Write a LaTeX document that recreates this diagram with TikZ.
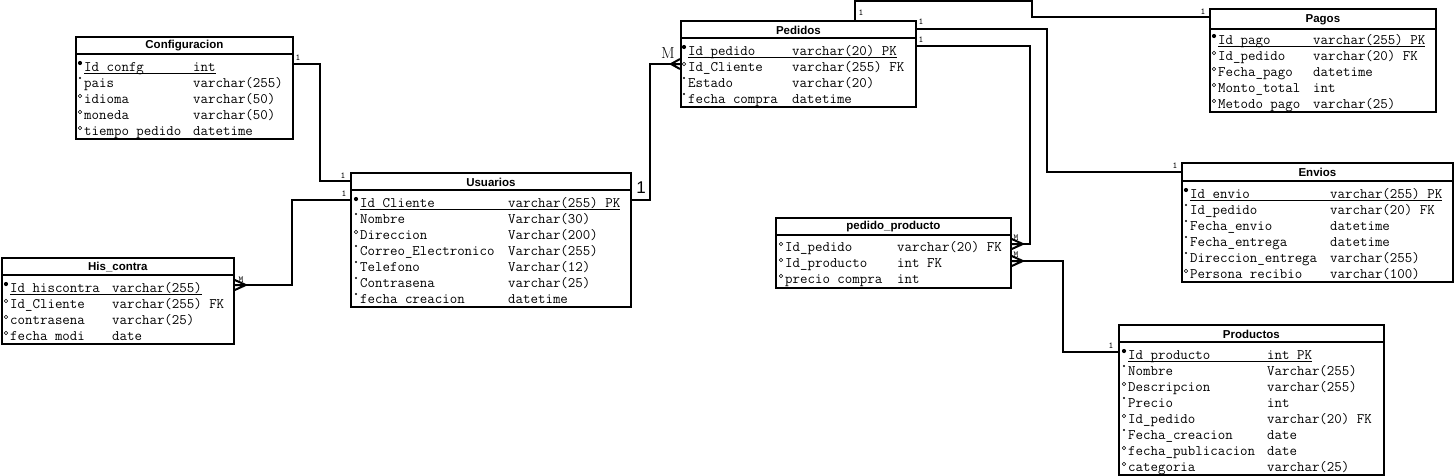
\documentclass[tikz,border=0pt]{standalone}
\usepackage{fontspec}
\newfontfamily\ttlfont{Liberation Sans}
\newfontfamily\onefont{Liberation Sans}
\usetikzlibrary{calc}
\tikzset{
  tab/.style={draw, line width=1.8pt, inner sep=0pt, anchor=north west, fill=white},
  ttl/.style={font=\ttlfont\bfseries\fontsize{11.5}{12}\selectfont, inner sep=0pt},
  fld/.style={font=\ttfamily\fontsize{14.5}{16}\selectfont, inner sep=0pt, anchor=base west},
  sepline/.style={line width=1.8pt},
  conn/.style={line width=1.8pt},
  foot/.style={line width=2pt},
  ul/.style={line width=0.8pt},
  card/.style={font=\ttfamily\fontsize{9}{9}\selectfont, inner sep=0pt},
  bigone/.style={font=\onefont\fontsize{17}{17}\selectfont, inner sep=0pt},
  bigm/.style={font=\fontsize{16}{16}\selectfont, inner sep=0pt},
}
% table: #1 name, #2 left, #3 top, #4 right, #5 bottom, #6 separator y, #7 title
\newcommand{\ertable}[7]{%
  \node[tab, minimum width=#4-#2, minimum height=#5-#3] (#1) at (#2,#3) {};
  \node[ttl] (#1-h) at ($(#1.north)!0.55!(#1.north |- 0,#6)$) {#7};
  \draw[sepline] (#1.west |- 0,#6) -- (#1.east |- 0,#6);
}
\newcommand{\mkpk}[2]{\fill (#1-4,#2-4) circle (2.1pt);}
\newcommand{\mkmd}[2]{\fill (#1-4,#2-5) circle (1.1pt);}
\newcommand{\mkop}[2]{\draw[line width=0.6pt] (#1-4,#2-3) circle (1.7pt);}
% row: #1 table, #2 index, #3 name x, #4 type x, #5 center y, #6 marker, #7 name, #8 type
\newcommand{\erow}[8]{%
  \node[fld] (#1-n#2) at (#3,#5+4) {#7};
  \node[fld] (#1-t#2) at (#4,#5+4) {#8};
  #6{#3}{#5}%
}
\newcommand{\pkline}[1]{\draw[ul] ([yshift=-2.5pt]#1-n1.base west) -- ([yshift=-2.5pt]#1-t1.base east);}
\newcommand{\crowE}[1]{\draw[foot] (#1) ++(11,0) coordinate (ap) -- ++(-11,-5) (ap) -- ++(-11,0) (ap) -- ++(-11,5);}
\newcommand{\crowW}[1]{\draw[foot] (#1) ++(-9,0) coordinate (ap) -- ++(9,-5) (ap) -- ++(9,0) (ap) -- ++(9,5);}
\begin{document}
\begin{tikzpicture}[x=1pt, y=-1pt]
\useasboundingbox[fill=white] (0,0) rectangle (1454,475);

% ---------- Configuracion
\ertable{conf}{75}{36}{292}{138}{54}{Configuracion}
\erow{conf}{1}{84}{193}{67}{\mkpk}{Id\_confg}{int}
\erow{conf}{2}{84}{193}{83}{\mkmd}{pais}{varchar(255)}
\erow{conf}{3}{84}{193}{99}{\mkop}{idioma}{varchar(50)}
\erow{conf}{4}{84}{193}{115}{\mkop}{moneda}{varchar(50)}
\erow{conf}{5}{84}{193}{131}{\mkop}{tiempo pedido}{datetime}
\pkline{conf}

% ---------- Usuarios
\ertable{usu}{350}{172}{630}{306}{190}{Usuarios}
\erow{usu}{1}{360}{508}{203}{\mkpk}{Id\_Cliente}{varchar(255) PK}
\erow{usu}{2}{360}{508}{219}{\mkmd}{Nombre}{Varchar(30)}
\erow{usu}{3}{360}{508}{235}{\mkop}{Direccion}{Varchar(200)}
\erow{usu}{4}{360}{508}{251}{\mkmd}{Correo\_Electronico}{Varchar(255)}
\erow{usu}{5}{360}{508}{267}{\mkmd}{Telefono}{Varchar(12)}
\erow{usu}{6}{360}{508}{283}{\mkmd}{Contrasena}{varchar(25)}
\erow{usu}{7}{360}{508}{299}{\mkmd}{fecha creacion}{datetime}
\pkline{usu}

% ---------- His_contra
\ertable{his}{1}{257}{233}{343}{275}{His\_contra}
\erow{his}{1}{10}{112}{288}{\mkpk}{Id\_hiscontra}{varchar(255)}
\erow{his}{2}{10}{112}{304}{\mkop}{Id\_Cliente}{varchar(255) FK}
\erow{his}{3}{10}{112}{320}{\mkop}{contrasena}{varchar(25)}
\erow{his}{4}{10}{112}{336}{\mkop}{fecha modi}{date}
\pkline{his}

% ---------- Pedidos
\ertable{ped}{680}{20}{915}{106}{38}{Pedidos}
\erow{ped}{1}{688}{792}{51}{\mkpk}{Id\_pedido}{varchar(20) PK}
\erow{ped}{2}{688}{792}{67}{\mkop}{Id\_Cliente}{varchar(255) FK}
\erow{ped}{3}{688}{792}{83}{\mkmd}{Estado}{varchar(20)}
\erow{ped}{4}{688}{792}{99}{\mkmd}{fecha compra}{datetime}
\pkline{ped}

% ---------- Pagos
\ertable{pag}{1209}{8}{1435}{111}{29}{Pagos}
\erow{pag}{1}{1218}{1313}{40}{\mkpk}{Id\_pago}{varchar(255) PK}
\erow{pag}{2}{1218}{1313}{56}{\mkop}{Id\_pedido}{varchar(20) FK}
\erow{pag}{3}{1218}{1313}{72}{\mkop}{Fecha\_pago}{datetime}
\erow{pag}{4}{1218}{1313}{88}{\mkop}{Monto\_total}{int}
\erow{pag}{5}{1218}{1313}{104}{\mkop}{Metodo pago}{varchar(25)}
\pkline{pag}

% ---------- Envios
\ertable{env}{1181}{162}{1452}{281}{181}{Envios}
\erow{env}{1}{1190}{1330}{194}{\mkpk}{Id\_envio}{varchar(255) PK}
\erow{env}{2}{1190}{1330}{210}{\mkmd}{Id\_pedido}{varchar(20) FK}
\erow{env}{3}{1190}{1330}{226}{\mkmd}{Fecha\_envio}{datetime}
\erow{env}{4}{1190}{1330}{242}{\mkmd}{Fecha\_entrega}{datetime}
\erow{env}{5}{1190}{1330}{258}{\mkmd}{Direccion\_entrega}{varchar(255)}
\erow{env}{6}{1190}{1330}{274}{\mkop}{Persona recibio}{varchar(100)}
\pkline{env}

% ---------- pedido_producto
\ertable{pp}{775}{217}{1010}{287}{235}{pedido\_producto}
\erow{pp}{1}{785}{897}{247}{\mkop}{Id\_pedido}{varchar(20) FK}
\erow{pp}{2}{785}{897}{263}{\mkop}{Id\_producto}{int FK}
\erow{pp}{3}{785}{897}{279}{\mkop}{precio compra}{int}

% ---------- Productos
\ertable{prod}{1118}{324}{1383}{474}{342}{Productos}
\erow{prod}{1}{1128}{1267}{355}{\mkpk}{Id\_producto}{int PK}
\erow{prod}{2}{1128}{1267}{371}{\mkmd}{Nombre}{Varchar(255)}
\erow{prod}{3}{1128}{1267}{387}{\mkop}{Descripcion}{varchar(255)}
\erow{prod}{4}{1128}{1267}{403}{\mkmd}{Precio}{int}
\erow{prod}{5}{1128}{1267}{419}{\mkop}{Id\_pedido}{varchar(20) FK}
\erow{prod}{6}{1128}{1267}{435}{\mkmd}{Fecha\_creacion}{date}
\erow{prod}{7}{1128}{1267}{451}{\mkop}{fecha\_publicacion}{date}
\erow{prod}{8}{1128}{1267}{467}{\mkop}{categoria}{varchar(25)}
\pkline{prod}

% ---------- connectors
% Configuracion - Usuarios
\draw[conn] (conf.east |- 0,64) -| (320,181) -- (usu.west |- 0,181);
\node[card] (l1a) at (298,58) {1};
\node[card] (l1b) at (343,176) {1};
% His_contra - Usuarios
\coordinate (f2) at (his.east |- 0,285);
\draw[conn] (f2) -- (292,285) |- (usu.west |- 0,200);
\crowE{f2}
\node[card] (l2a) at (241,280) {M};
\node[card] (l2b) at (344,194) {1};
% Usuarios - Pedidos
\coordinate (f3) at (ped.west |- 0,64);
\draw[conn] (usu.east |- 0,200) -| (650,64) -- (f3);
\crowW{f3}
\node[bigone] (l3a) at (641,188) {1};
\node[bigm] (l3b) at (668,53) {M};
% Pedidos - Pagos
\draw[conn] (ped.north -| 855,0) -- (855,1) -| (1032,17) -- (pag.west |- 0,17);
\node[card] (l4a) at (861,13) {1};
\node[card] (l4b) at (1203,12) {1};
% Pedidos - Envios
\draw[conn] (ped.east |- 0,29) -| (1047,172) -- (env.west |- 0,172);
\node[card] (l5a) at (921,22) {1};
\node[card] (l5b) at (1175,166) {1};
% Pedidos - pedido_producto
\coordinate (f6) at (pp.east |- 0,244);
\draw[conn] (ped.east |- 0,46) -| (1030,244) -- (f6);
\crowE{f6}
\node[card] (l6a) at (921,40) {1};
\node[card] (l6b) at (1016,238) {M};
% pedido_producto - Productos
\coordinate (f7) at (pp.east |- 0,261);
\draw[conn] (f7) -| (1063,352) -- (prod.west |- 0,352);
\crowE{f7}
\node[card] (l7a) at (1016,255) {M};
\node[card] (l7b) at (1111,346) {1};
\end{tikzpicture}
\end{document}
